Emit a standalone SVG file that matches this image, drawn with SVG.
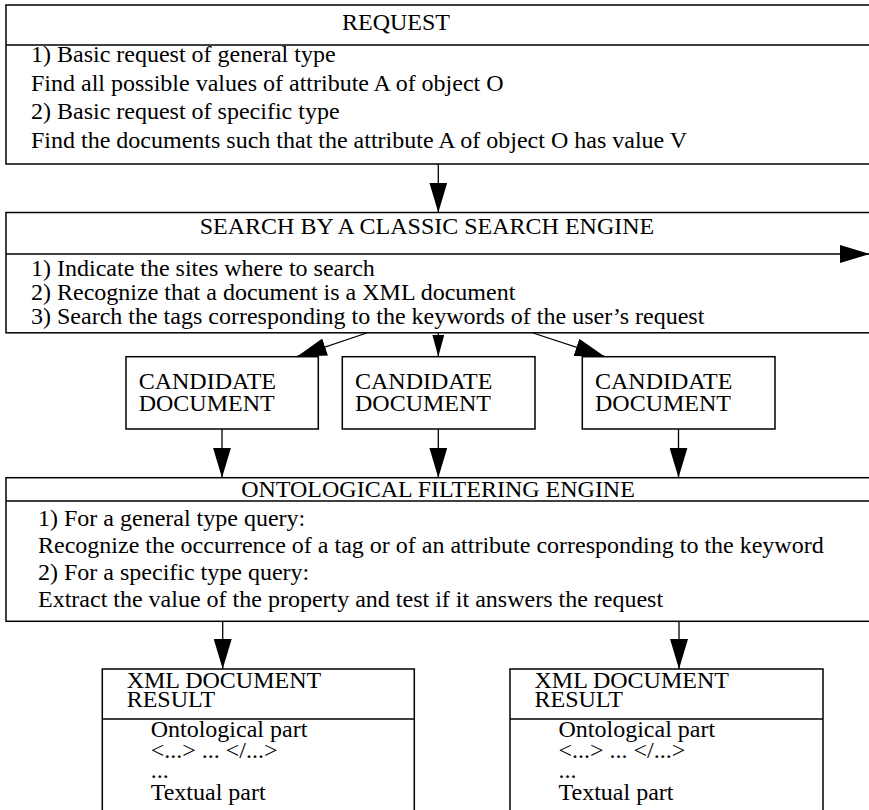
<svg xmlns="http://www.w3.org/2000/svg" width="869" height="810" viewBox="0 0 869 810">
  <style>
    .box { fill: #ffffff; stroke: #000000; stroke-width: 1.5; }
    .sep { stroke: #000000; stroke-width: 1.5; fill: none; }
    .conn { stroke: #000000; stroke-width: 1.3; fill: none; }
    text { font-family: "Liberation Serif", "Times New Roman", serif; font-size: 24px; fill: #000000; }
    .mid { text-anchor: middle; }
  </style>
  <defs>
    <marker id="arrow" markerUnits="userSpaceOnUse" markerWidth="30" markerHeight="18" refX="30" refY="9" orient="auto" viewBox="0 0 30 18">
      <path d="M0,0 L30,9 L0,18 Z" fill="#000000"/>
    </marker>
    <marker id="arrowSmall" markerUnits="userSpaceOnUse" markerWidth="22" markerHeight="12" refX="22" refY="6" orient="auto" viewBox="0 0 22 12">
      <path d="M0,0 L22,6 L0,12 Z" fill="#000000"/>
    </marker>
  </defs>

  <g id="request">
    <rect class="box" x="6" y="5" width="880" height="159"/>
    <line class="sep" x1="6" y1="45" x2="886" y2="45"/>
    <text class="mid" x="396" y="29.5">REQUEST</text>
    <text x="31" y="62">1) Basic request of general type</text>
    <text x="31" y="90.7">Find all possible values of attribute A of object O</text>
    <text x="31" y="119">2) Basic request of specific type</text>
    <text x="31" y="147.7">Find the documents such that the attribute A of object O has value V</text>
  </g>

  <g id="search">
    <rect class="box" x="6" y="212.5" width="880" height="120.3"/>
    <line class="sep" x1="6" y1="254" x2="870" y2="254" marker-end="url(#arrow)"/>
    <text class="mid" x="427" y="233.5">SEARCH BY A CLASSIC SEARCH ENGINE</text>
    <text x="31" y="276">1) Indicate the sites where to search</text>
    <text x="31" y="300">2) Recognize that a document is a XML document</text>
    <text x="31" y="323.5">3) Search the tags corresponding to the keywords of the user’s request</text>
  </g>

  <g id="candidate1">
    <rect class="box" x="126" y="356.7" width="192.3" height="72.3"/>
    <text x="138.7" y="389.3">CANDIDATE</text>
    <text x="138.7" y="411">DOCUMENT</text>
  </g>

  <g id="candidate2">
    <rect class="box" x="342.3" y="356.7" width="192.7" height="72.3"/>
    <text x="355" y="389.3">CANDIDATE</text>
    <text x="355" y="411">DOCUMENT</text>
  </g>

  <g id="candidate3">
    <rect class="box" x="582.3" y="356.7" width="192.7" height="72.3"/>
    <text x="595" y="389.3">CANDIDATE</text>
    <text x="595" y="411">DOCUMENT</text>
  </g>

  <g id="ontological">
    <rect class="box" x="6" y="477.7" width="880" height="143.6"/>
    <line class="sep" x1="6" y1="501" x2="886" y2="501"/>
    <text class="mid" x="438" y="497">ONTOLOGICAL FILTERING ENGINE</text>
    <text x="38" y="526">1) For a general type query:</text>
    <text x="38" y="553.3">Recognize the occurrence of a tag or of an attribute corresponding to the keyword</text>
    <text x="38" y="580">2) For a specific type query:</text>
    <text x="38" y="606.7">Extract the value of the property and test if it answers the request</text>
  </g>

  <g id="result1">
    <rect class="box" x="102.3" y="669" width="312" height="160"/>
    <line class="sep" x1="102.3" y1="719" x2="414.3" y2="719"/>
    <text x="126.7" y="688.3">XML DOCUMENT</text>
    <text x="126.7" y="707.3">RESULT</text>
    <text x="150.7" y="737.3">Ontological part</text>
    <text x="150.7" y="758.3">&lt;...&gt; ... &lt;/...&gt;</text>
    <text x="150.7" y="778.3">...</text>
    <text x="150.7" y="800">Textual part</text>
  </g>

  <g id="result2">
    <rect class="box" x="510" y="669" width="313" height="160"/>
    <line class="sep" x1="510" y1="719" x2="823" y2="719"/>
    <text x="534.5" y="688.3">XML DOCUMENT</text>
    <text x="534.5" y="707.3">RESULT</text>
    <text x="558.5" y="737.3">Ontological part</text>
    <text x="558.5" y="758.3">&lt;...&gt; ... &lt;/...&gt;</text>
    <text x="558.5" y="778.3">...</text>
    <text x="558.5" y="800">Textual part</text>
  </g>

  <g id="connectors">
    <line class="conn" x1="438.3" y1="164" x2="438.3" y2="212.5" marker-end="url(#arrow)"/>
    <line class="conn" x1="366.7" y1="333" x2="296.7" y2="356.7" marker-end="url(#arrow)"/>
    <line class="conn" x1="438.3" y1="333" x2="438.3" y2="356.7" marker-end="url(#arrowSmall)"/>
    <line class="conn" x1="533" y1="333" x2="605" y2="356.7" marker-end="url(#arrow)"/>
    <line class="conn" x1="222" y1="429" x2="222" y2="477.7" marker-end="url(#arrow)"/>
    <line class="conn" x1="438.3" y1="429" x2="438.3" y2="477.7" marker-end="url(#arrow)"/>
    <line class="conn" x1="678.5" y1="429" x2="678.5" y2="477.7" marker-end="url(#arrow)"/>
    <line class="conn" x1="222.7" y1="621.3" x2="222.7" y2="669" marker-end="url(#arrow)"/>
    <line class="conn" x1="679" y1="621.3" x2="679" y2="669" marker-end="url(#arrow)"/>
  </g>
</svg>
